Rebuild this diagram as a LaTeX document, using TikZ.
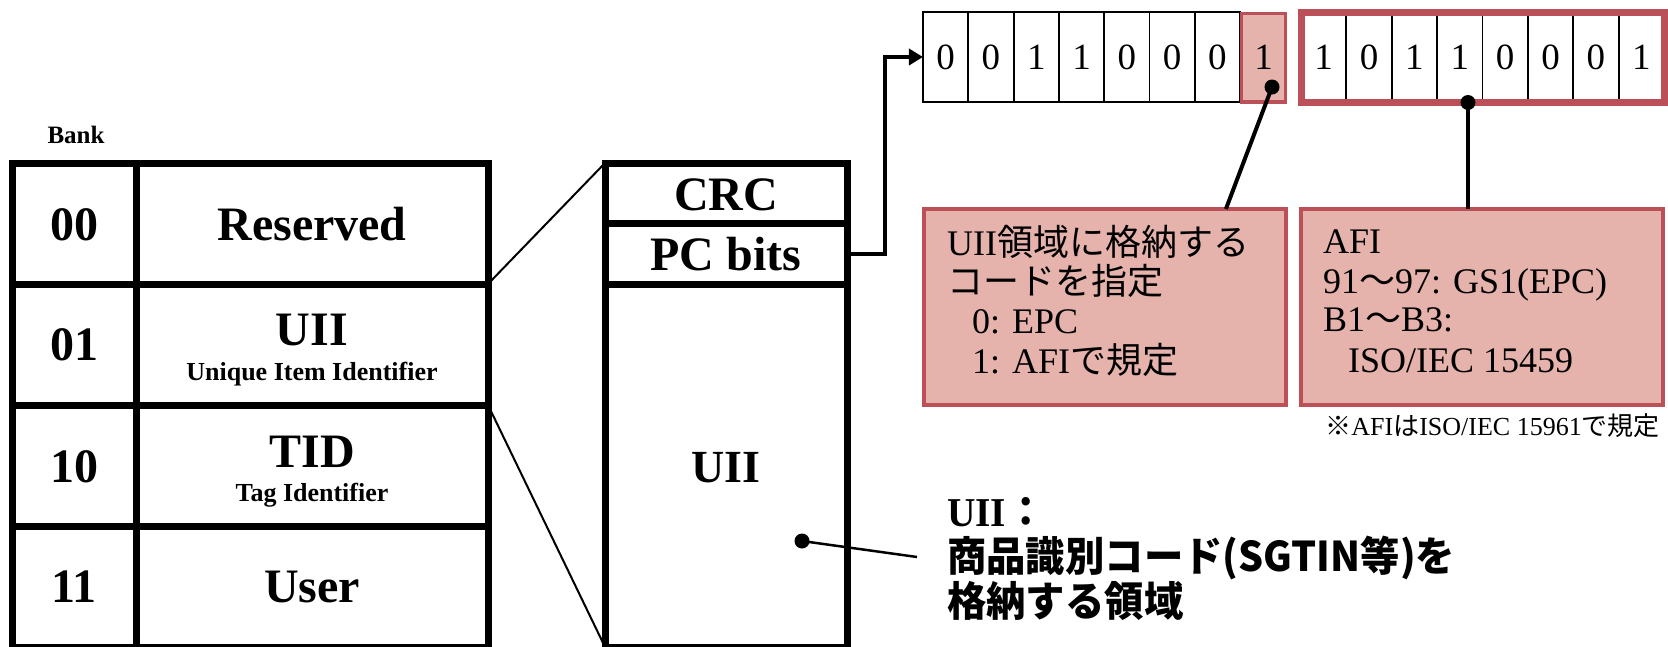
\documentclass[tikz,border=0pt]{standalone}
\usepackage{fontspec}
\setmainfont{Liberation Serif}
\newfontfamily\jp{Noto Sans CJK JP}
\usetikzlibrary{arrows.meta,calc}
\definecolor{pinkfill}{RGB}{229,179,172}
\definecolor{redline}{RGB}{188,80,88}
\begin{document}
\begin{tikzpicture}[x=1pt,y=-1pt,
 tcell/.style={draw=black,line width=7pt,inner sep=0pt,outer sep=0pt,minimum height=121pt},
 bankcell/.style={tcell,minimum width=124pt},
 namecell/.style={tcell,minimum width=352pt},
 midcell/.style={tcell,minimum width=242pt},
 big/.style={inner sep=0pt,anchor=base,font=\fontsize{48}{50}\selectfont\bfseries},
 sub/.style={inner sep=0pt,anchor=base,font=\fontsize{26}{28}\selectfont\bfseries},
 bit/.style={draw=black,line width=1.8pt,inner sep=0pt,outer sep=0pt,minimum width=45.35pt,minimum height=90pt,font=\fontsize{37}{40}\selectfont},
 callout/.style={draw=redline,fill=pinkfill,line width=3.5pt,inner sep=0pt,outer sep=0pt,minimum width=362pt,minimum height=196pt},
 ctext/.style={inner sep=0pt,anchor=base west,font=\fontsize{36}{40}\selectfont},
 blabel/.style={inner sep=0pt,anchor=base west,font=\fontsize{41}{45}\selectfont\bfseries},
 thinline/.style={line width=2pt},
 lead/.style={line width=4pt},
]
\path[use as bounding box] (0,0) rectangle (1668,646);

% ---- bank table
\node[sub,font=\fontsize{25}{27}\selectfont\bfseries] (bank) at (76,143) {Bank};
\node[bankcell] (b00) at (74,223.5) {};
\node[namecell] (n00) at (312,223.5) {};
\node[bankcell] (b01) at (74,344.5) {};
\node[namecell] (n01) at (312,344.5) {};
\node[bankcell] (b10) at (74,465.5) {};
\node[namecell] (n10) at (312,465.5) {};
\node[bankcell] (b11) at (74,586.5) {};
\node[namecell] (n11) at (312,586.5) {};

\node[big] (t00) at (74,240) {00};
\node[big] (t01) at (74,360) {01};
\node[big] (t10) at (74,482) {10};
\node[big] (t11) at (74,602) {11};
\node[big] (tres) at (312,240) {Reserved};
\node[big] (tuii) at (312,345) {UII};
\node[sub] (tuiis) at (312,380) {Unique Item Identifier};
\node[big] (ttid) at (312,467) {TID};
\node[sub] (ttids) at (312,501) {Tag Identifier};
\node[big] (tuser) at (312,602) {User};

% ---- middle column
\node[midcell,minimum height=60pt] (crc) at (726,193) {};
\node[midcell,minimum height=61pt] (pc) at (726,253.5) {};
\node[midcell,minimum height=363pt] (muii) at (726,465.5) {};
\node[big] (tcrc) at (726,210) {CRC};
\node[big] (tpc) at (726,270) {PC bits};
\node[big,font=\fontsize{46}{48}\selectfont\bfseries] (tmuii) at (726,482) {UII};

\draw[thinline] (n00.south east) -- (crc.north west);
\draw[thinline] (n10.north east) -- (muii.south west);

% ---- bits
\foreach \v [count=\i] in {0,0,1,1,0,0,0}
  \node[bit] (a\i) at ({923+45.3*(\i-0.5)},57) {\v};
\node[bit,fill=pinkfill,draw=redline,line width=3.5pt,minimum width=44pt,minimum height=88.5pt] (a8) at (1263.5,57.5) {1};
\foreach \v [count=\i] in {1,0,1,1,0,0,0,1}
  \node[bit,fill=white] (c\i) at ({1301+45.375*(\i-0.5)},57.25) {\v};
\node[draw=redline,line width=7pt,inner sep=0pt,outer sep=0pt,minimum width=363pt,minimum height=90.5pt] (g2) at (1482.5,57.25) {};

\draw[lead,-{Triangle[length=14pt,width=16pt]}] (pc.east) -- ([xshift=38pt]pc.east) |- (a1.west);

% ---- callouts
\node[callout] (box1) at (1105,307) {};
\node[callout] (box2) at (1482,307) {};

\node[ctext] (l11) at (947,255) {UII{\jp 領域に格納する}};
\node[ctext] (l12) at (947,294) {{\jp コードを指定}};
\node[ctext] (l13) at (972,333) {0: EPC};
\node[ctext] (l14) at (972,373) {1: AFI{\jp で規定}};

\node[ctext] (l21) at (1323,253) {AFI};
\node[ctext] (l22) at (1323,293) {91{\jp 〜}97: GS1(EPC)};
\node[ctext] (l23) at (1323,331) {B1{\jp 〜}B3:};
\node[ctext] (l24) at (1348,372) {ISO/IEC 15459};

\node[inner sep=0pt,anchor=base east,font=\fontsize{26}{28}\selectfont] (note) at (1660,435) {{\jp ※}AFI{\jp は}ISO/IEC 15961{\jp で規定}};

\coordinate (d1) at (1272,87);
\draw[lead] (d1) -- ($(box1.north west)!0.834!(box1.north east)$);
\fill (d1) circle[radius=7.5pt];

\coordinate (d2) at ($(g2.south west)!0.46!(g2.south east)$);
\draw[lead] (d2) -- (d2 |- box2.north);
\fill (d2) circle[radius=7.5pt];

% ---- bottom label
\node[blabel] (bl1) at (947,526) {\scalebox{0.96}[1]{UII{\jp ：}}};
\node[blabel] (bl2) at (947,571) {\scalebox{0.96}[1]{\jp 商品識別コード(SGTIN等)を}};
\node[blabel] (bl3) at (947,616) {\scalebox{0.96}[1]{\jp 格納する領域}};

\coordinate (d3) at (802,541);
\coordinate (e3) at (917,557);
\draw[line width=2.5pt] (d3) -- (e3);
\fill (d3) circle[radius=7.5pt];
\end{tikzpicture}
\end{document}
